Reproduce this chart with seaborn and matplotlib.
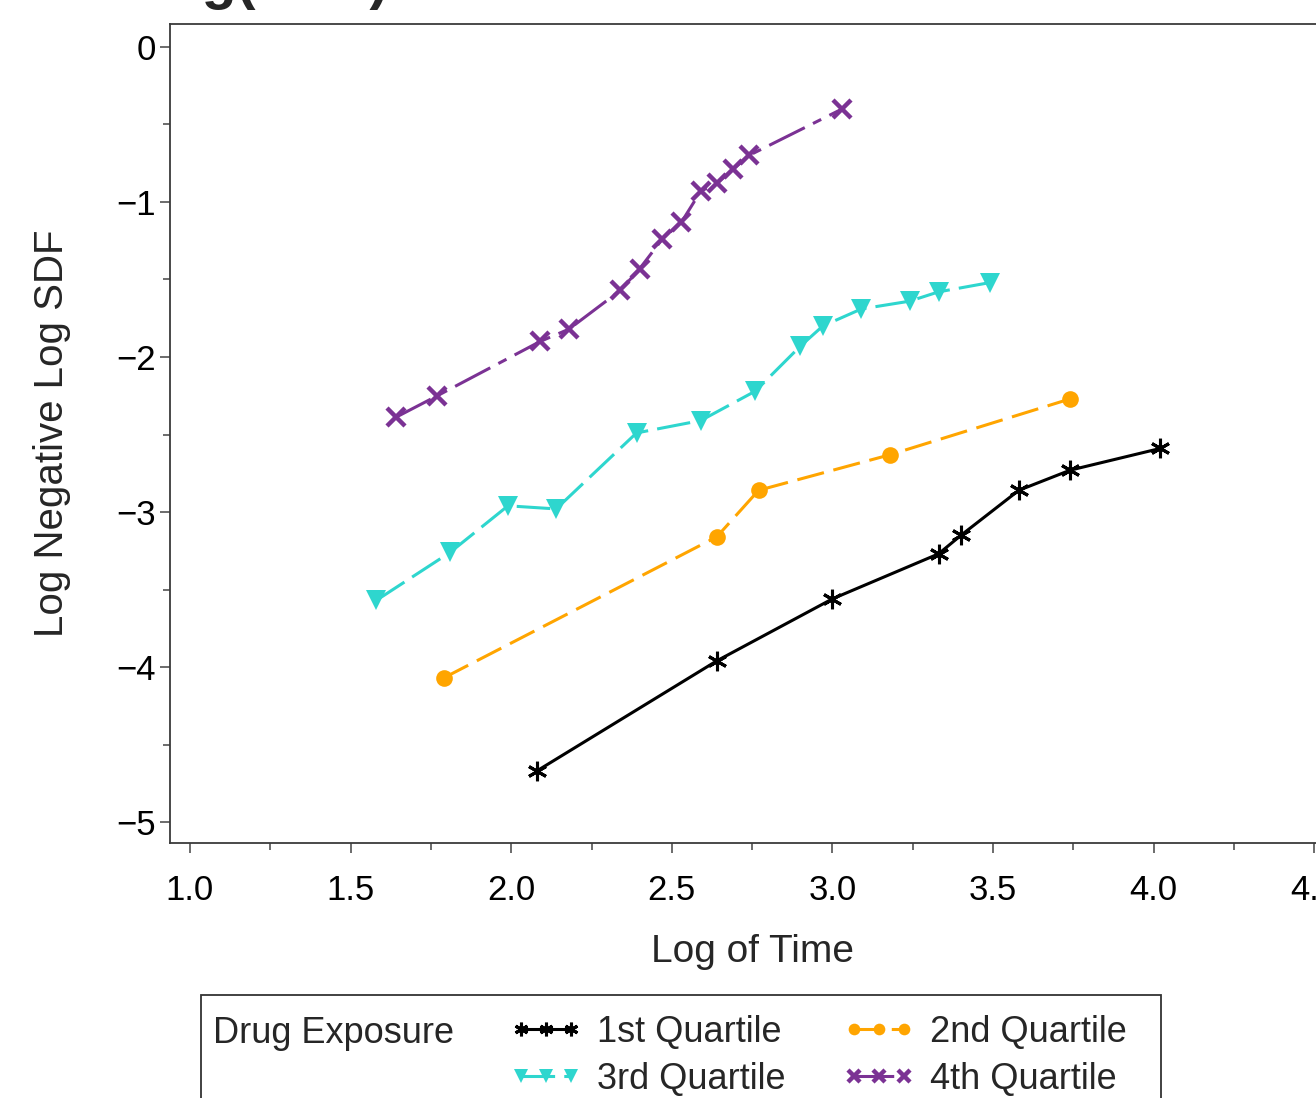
import numpy as np
import pandas as pd
import matplotlib
matplotlib.use("Agg")
import matplotlib.pyplot as plt
import seaborn as sns
from matplotlib.ticker import MultipleLocator, FuncFormatter
from matplotlib.patches import Rectangle

# Log(time) vs log(-log(survival)) by drug exposure quartile
q1_logt = [2.08, 2.64, 3.00, 3.33, 3.40, 3.58, 3.74, 4.02]
q1_lls = [-4.67, -3.96, -3.56, -3.27, -3.15, -2.86, -2.73, -2.59]

q2_logt = [1.79, 2.64, 2.77, 3.18, 3.74]
q2_lls = [-4.07, -3.16, -2.86, -2.63, -2.27]

q3_logt = [1.58, 1.81, 1.99, 2.14, 2.39, 2.59, 2.76, 2.90, 2.97, 3.09, 3.24, 3.33, 3.49]
q3_lls = [-3.57, -3.26, -2.96, -2.98, -2.49, -2.41, -2.22, -1.93, -1.80, -1.69, -1.64, -1.58, -1.52]

q4_logt = [1.64, 1.77, 2.09, 2.18, 2.34, 2.40, 2.47, 2.53, 2.59, 2.64, 2.69, 2.74, 3.03]
q4_lls = [-2.39, -2.25, -1.90, -1.82, -1.57, -1.43, -1.24, -1.13, -0.93, -0.88, -0.79, -0.70, -0.40]

groups = ["1st Quartile", "2nd Quartile", "3rd Quartile", "4th Quartile"]
legend_title = "Drug Exposure"
x_label = "Log of Time"
y_label = "Log Negative Log SDF"
title = "Log(SDF)"

df = pd.concat([
    pd.DataFrame({"logt": q1_logt, "lls": q1_lls, "group": groups[0]}),
    pd.DataFrame({"logt": q2_logt, "lls": q2_lls, "group": groups[1]}),
    pd.DataFrame({"logt": q3_logt, "lls": q3_lls, "group": groups[2]}),
    pd.DataFrame({"logt": q4_logt, "lls": q4_lls, "group": groups[3]}),
], ignore_index=True)

sns.set_style("ticks")
plt.rcParams["font.family"] = ["Liberation Sans", "DejaVu Sans"]

styles = {
    "1st Quartile": dict(color="#000000", marker=(6, 2, 0), ms=14, mew=2.2,
                         ls="-"),
    "2nd Quartile": dict(color="#FFA500", marker="o", ms=12, mew=0.0,
                         ls=(0, (9, 3.2))),
    "3rd Quartile": dict(color="#2ED6CE", marker="v", ms=14, mew=0.0,
                         ls=(0, (11, 3))),
    "4th Quartile": dict(color="#7B3294", marker="x", ms=13, mew=3.2,
                         ls=(0, (13, 3, 3, 3))),
}

fig = plt.figure(figsize=(13.16, 10.98), dpi=100)
ax = fig.add_axes([0.12918, 0.23224, 0.88450, 0.74590])

handles = {}
for g in groups:
    st = styles[g]
    sub = df[df["group"] == g]
    n_before = len(ax.lines)
    sns.lineplot(data=sub, x="logt", y="lls", ax=ax, color=st["color"],
                 marker=st["marker"], markersize=st["ms"],
                 markeredgewidth=st["mew"], markeredgecolor=st["color"],
                 markerfacecolor=st["color"], linestyle=st["ls"], linewidth=2.2,
                 estimator=None, sort=False, errorbar=None, legend=False)
    handles[g] = ax.lines[n_before]

ax.set_xlim(0.938, 4.561)
ax.set_ylim(-5.135, 0.148)

ax.xaxis.set_major_locator(MultipleLocator(0.5))
ax.xaxis.set_minor_locator(MultipleLocator(0.25))
ax.yaxis.set_major_locator(MultipleLocator(1))
ax.yaxis.set_minor_locator(MultipleLocator(0.5))
ax.xaxis.set_major_formatter(FuncFormatter(lambda v, p: f"{v:.1f}"))
ax.yaxis.set_major_formatter(
    FuncFormatter(lambda v, p: f"{int(round(v))}".replace("-", "\u2212")))

ax.tick_params(which="major", length=7.2, width=1.1, color="#444444",
               labelsize=25, labelcolor="black")
ax.tick_params(which="minor", length=5, width=1.1, color="#444444")
ax.tick_params(axis="x", which="major", pad=15)
ax.tick_params(axis="y", which="major", pad=3)

for side in ["left", "bottom", "top", "right"]:
    ax.spines[side].set_visible(True)
    ax.spines[side].set_color("#3a3a3a")
    ax.spines[side].set_linewidth(1.3)

ax.set_xlabel(x_label, fontsize=28)
ax.set_ylabel(y_label, fontsize=29)
ax.xaxis.set_label_coords(0.5, -0.1110)
ax.yaxis.set_label_coords(-0.0850, 0.5)

# Legend laid out row-wise: 1st/2nd on top, 3rd/4th below
order = [groups[0], groups[2], groups[1], groups[3]]
fig.legend([handles[g] for g in order], order, ncol=2, loc="upper left",
           bbox_to_anchor=(510 / 1316, 1 - 1015 / 1098), frameon=False,
           fontsize=26, handlelength=2.0, handletextpad=0.4,
           columnspacing=1.6, labelspacing=0.32, borderpad=0,
           borderaxespad=0, numpoints=3, markerscale=0.7)
fig.text(213 / 1316, 1 - 1043 / 1098, legend_title, fontsize=26,
         va="baseline", ha="left")
fig.add_artist(Rectangle((201 / 1316, -0.05), (1161 - 201) / 1316,
                         (1 - 995 / 1098) + 0.05, transform=fig.transFigure,
                         fill=False, lw=1.3, ec="#333333"))

fig.text(132 / 1316, 1 + 2 / 1098, title, fontsize=41, fontweight="bold",
         va="baseline", ha="left")

fig.savefig("out.png", dpi=100)
